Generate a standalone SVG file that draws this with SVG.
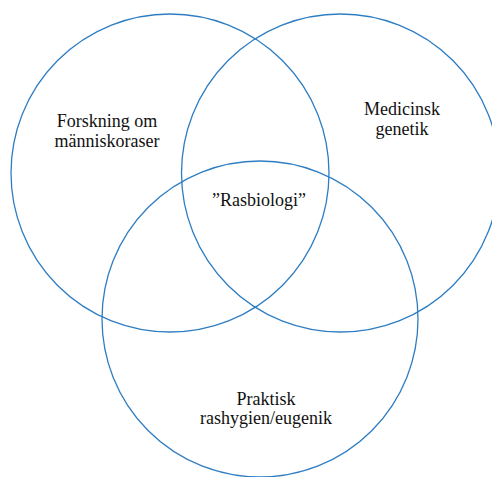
<svg xmlns="http://www.w3.org/2000/svg" width="492" height="477" viewBox="0 0 492 477">
<style>
.c{fill:none;stroke:#2E7DC2;stroke-width:1.3}
.t{font-family:"Liberation Serif","Times New Roman",serif;font-size:18px;fill:#111;text-anchor:middle}
</style>
<rect width="492" height="477" fill="#fff"/>
<g id="circle-forskning">
<circle class="c" cx="170" cy="173" r="159"/>
<text class="t" x="107" y="127">Forskning om</text>
<text class="t" x="107" y="147">människoraser</text>
</g>
<g id="circle-medicinsk">
<circle class="c" cx="340.5" cy="173" r="159"/>
<text class="t" x="402" y="115">Medicinsk</text>
<text class="t" x="402" y="135">genetik</text>
</g>
<g id="circle-praktisk">
<circle class="c" cx="260" cy="319" r="158"/>
<text class="t" x="266" y="405">Praktisk</text>
<text class="t" x="266" y="424">rashygien/eugenik</text>
</g>
<g id="center">
<text class="t" x="259" y="206">”Rasbiologi”</text>
</g>
<g id="connectors"></g>
</svg>
